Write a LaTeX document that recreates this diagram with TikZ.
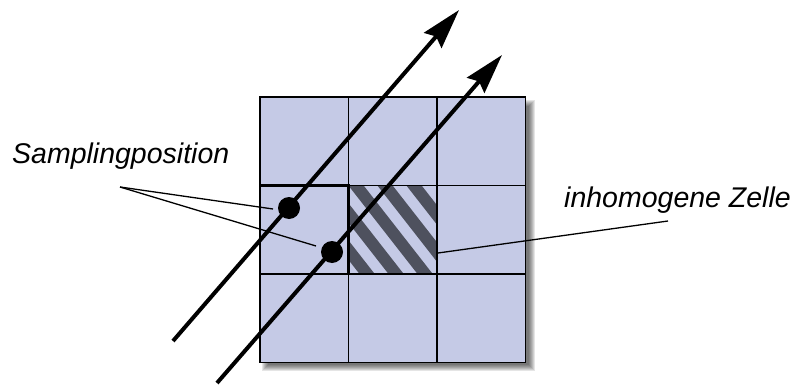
\documentclass[tikz,border=0pt]{standalone}
\usepackage{fontspec}
\setmainfont{Liberation Sans}
\usetikzlibrary{arrows.meta}
\definecolor{cellfill}{HTML}{C5CAE6}
\definecolor{stripecol}{HTML}{4E515E}
\begin{document}
\begin{tikzpicture}[x=1pt,y=-1pt,
  gridline/.style={line width=1.2pt, draw=black},
  hilite/.style={line width=2.6pt, draw=black},
  ray/.style={line width=4pt, -{Stealth[length=40pt,width=23pt,inset=5pt]}},
  dotnode/.style={circle, fill=black, inner sep=0pt, minimum size=22pt},
  leader/.style={line width=1.3pt},
  lbl/.style={font=\fontsize{28.5}{32}\selectfont\itshape, inner sep=0pt, anchor=base west}]
\useasboundingbox (0,0) rectangle (794,385);
% soft shadow
\foreach \b in {0,...,6}{
  \fill[black, opacity=0.1] ({262+\b},{100+\b}) rectangle ({535-\b},{371-\b});
}
% cells
\fill[cellfill] (260,97) rectangle (525.5,362.5);
% hatched cell
\begin{scope}
  \clip (348.5,185.5) rectangle (437,274);
  \foreach \k in {-5,...,3}{
    \draw[stripecol, line width=12pt] ({385+29*\k-100},57.5) -- ++(200,256);
  }
\end{scope}
% grid
\draw[gridline] (260,97) rectangle (525.5,362.5);
\foreach \x in {348.5,437}{ \draw[gridline] (\x,97) -- (\x,362.5); }
\foreach \y in {185.5,274}{ \draw[gridline] (260,\y) -- (525.5,\y); }
\draw[hilite] (260,185.5) rectangle (348.5,274);
% rays
\coordinate (r1s) at (173,341);
\coordinate (r1e) at (459,10);
\coordinate (r2s) at (217,383);
\coordinate (r2e) at (502,55);
\draw[ray] (r1s) -- (r1e);
\draw[ray] (r2s) -- (r2e);
% sampling points
\node[dotnode] (d1) at (289,208) {};
\node[dotnode] (d2) at (332,252) {};
% labels
\node[lbl] (samp) at (12,163) {Samplingposition};
\node[lbl] (inh) at (564,207) {inhomogene Zelle};
% leaders
\coordinate (s0) at (120,187);
\coordinate (s1) at (273,209);
\coordinate (s2) at (316,246);
\draw[leader] (s0) -- (s1);
\draw[leader] (s0) -- (s2);
\coordinate (z0) at (668,221);
\coordinate (z1) at (438,253);
\draw[leader] (z0) -- (z1);
\end{tikzpicture}
\end{document}
